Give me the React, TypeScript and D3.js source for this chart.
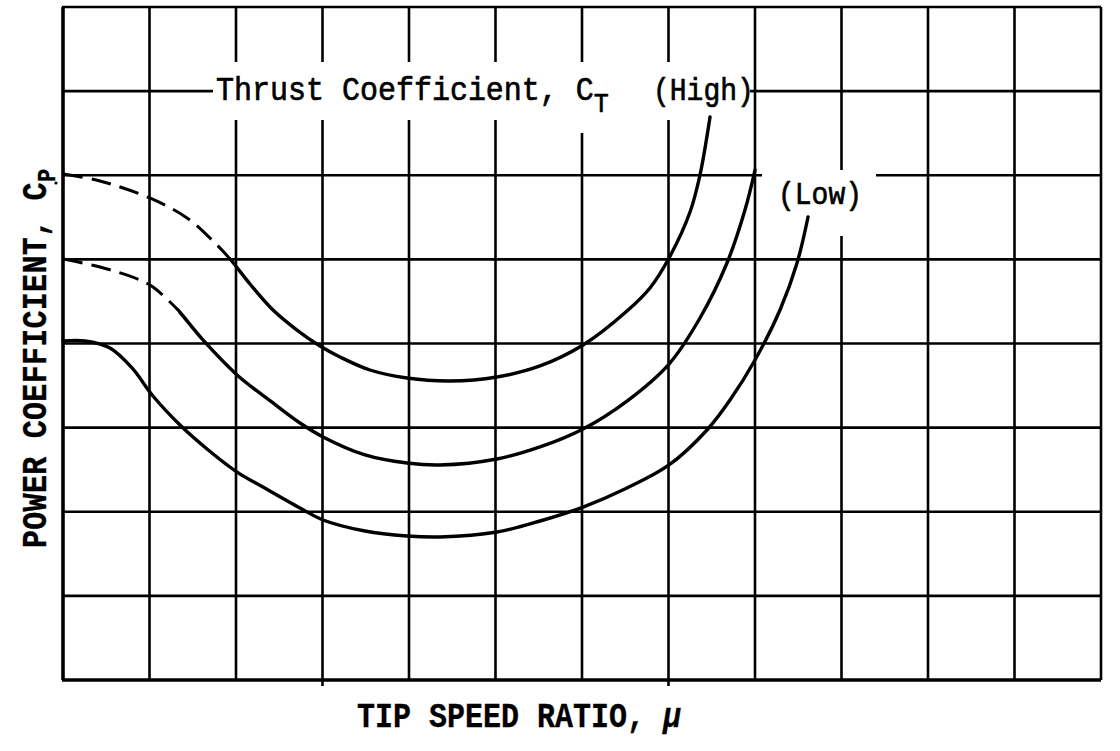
import React from "react";
import * as d3 from "d3";

type Pt = [number, number];

// curve values, in grid units (x: 0..12, y: 0..8)
const highCurve: Pt[] = [
    [0, 6.015], [0.428, 5.932], [1.029, 5.718], [1.434, 5.492], [1.699, 5.254], [1.931, 5.004],
    [2.162, 4.707], [2.428, 4.398], [2.705, 4.16], [2.971, 3.97], [3.202, 3.84],
    [3.549, 3.685], [3.977, 3.59], [4.474, 3.554], [5.017, 3.602], [5.514, 3.733], [6.012, 3.982],
    [6.52, 4.386], [6.786, 4.66], [7.006, 5.016], [7.249, 5.563], [7.364, 6.003], [7.48, 6.692],
];
const midCurve: Pt[] = [
    [0, 5.004], [0.428, 4.909], [0.89, 4.755], [1.04, 4.672], [1.237, 4.493], [1.329, 4.398],
    [1.618, 4.042], [2.012, 3.626], [2.428, 3.293], [2.74, 3.055], [3.006, 2.889],
    [3.491, 2.675], [3.977, 2.579], [4.358, 2.556], [5.017, 2.627], [5.514, 2.77], [6.012, 2.984],
    [6.52, 3.316], [7.006, 3.756], [7.364, 4.303], [7.676, 4.957], [7.884, 5.587], [8.0, 6.062],
];
const lowCurve: Pt[] = [
    [0, 4.03], [0.254, 4.03], [0.543, 3.947], [0.798, 3.709], [1.04, 3.376], [1.353, 3.031],
    [1.665, 2.746], [2.012, 2.472], [2.312, 2.294], [2.74, 2.045], [3.006, 1.902], [3.491, 1.771],
    [3.977, 1.712], [4.358, 1.7], [5.017, 1.759], [5.514, 1.89], [6.012, 2.056], [6.52, 2.282],
    [7.006, 2.556], [7.445, 2.972], [7.711, 3.328], [8.0, 3.804], [8.289, 4.398], [8.486, 4.957],
    [8.613, 5.504],
];
// where the dashed (extrapolated) start of a curve turns solid
const highDashEnd = 1.931;
const midDashEnd = 1.329;
const bottomTicks = [3, 7];

const W = 1120;
const H = 751;
const FONT = "'Liberation Mono', 'DejaVu Sans Mono', monospace";

const App: React.FC = () => {
    const x = d3.scaleLinear().domain([0, 12]).range([63, 1101]);
    const y = d3.scaleLinear().domain([0, 8]).range([680, 7]);

    const line = d3.line<Pt>()
        .x(d => x(d[0]))
        .y(d => y(d[1]))
        .curve(d3.curveCatmullRom.alpha(0.5));

    const xs = x.ticks(12);
    const ys = y.ticks(8);

    const split = (id: string, at: number) => (
        <>
            <clipPath id={id + "-a"}><rect x={0} y={0} width={x(at)} height={H} /></clipPath>
            <clipPath id={id + "-b"}><rect x={x(at)} y={0} width={W} height={H} /></clipPath>
        </>
    );

    return (
        <svg width={W} height={H} style={{ position: "absolute", left: 0, top: 0, background: "#fff" }}>
            <defs>
                {split("high", highDashEnd)}
                {split("mid", midDashEnd)}
            </defs>
            <rect width={W} height={H} fill="#fff" />
            {/* grid */}
            <g stroke="#000" strokeWidth={2.6}>
                {xs.map(v => (
                    <line key={"vx" + v} x1={x(v)} x2={x(v)} y1={y(8)} y2={y(0)}
                        strokeWidth={v === 0 ? 3.6 : 2.6} />
                ))}
                {ys.map(v => (
                    <line key={"hy" + v} x1={x(0) - 1} x2={x(12)} y1={y(v)} y2={y(v)}
                        strokeWidth={v === 0 ? 3.4 : 2.6} />
                ))}
                {bottomTicks.map(v => (
                    <line key={"t" + v} x1={x(v)} x2={x(v)} y1={y(0)} y2={y(0) + 6} />
                ))}
            </g>
            {/* white space kept clear round the labels */}
            <rect x={213} y={62} width={537} height={58} fill="#fff" />
            <rect x={570} y={62} width={50} height={71} fill="#fff" />
            <rect x={762} y={170} width={114} height={66} fill="#fff" />

            <circle cx={56} cy={183} r={1.6} fill="#000" />

            {/* curves */}
            <g fill="none" stroke="#000" strokeWidth={3.4} strokeLinecap="round">
                <path d={line(highCurve) ?? ""} clipPath="url(#high-a)" strokeDasharray="20 9" strokeWidth={3} strokeLinecap="butt" />
                <path d={line(highCurve) ?? ""} clipPath="url(#high-b)" />
                <path d={line(midCurve) ?? ""} clipPath="url(#mid-a)" strokeDasharray="20 9" strokeWidth={3} strokeLinecap="butt" />
                <path d={line(midCurve) ?? ""} clipPath="url(#mid-b)" />
                <path d={line(lowCurve) ?? ""} />
            </g>

            {/* labels */}
            <g fontFamily={FONT} fill="#000" stroke="#000" strokeWidth={0.6}>
                <text transform="translate(216,100) scale(1,1.1)" fontSize={30}>
                    Thrust Coefficient, C<tspan fontSize={25} dy={11}>T</tspan>
                </text>
                <text transform="translate(653,100) scale(1,1.1)" fontSize={28}>(High)</text>
                <text transform="translate(778,204) scale(1,1.1)" fontSize={28}>(Low)</text>
                <text transform="translate(357,727) scale(1,1.15)" fontSize={30} fontWeight="bold" strokeWidth={0.3}>
                    TIP SPEED RATIO, <tspan fontStyle="italic">μ</tspan>
                </text>
                <text transform="translate(46,548) rotate(-90) scale(1,1.15)" fontSize={30} fontWeight="bold"
                    strokeWidth={0.3} letterSpacing={0.3}>
                    POWER COEFFICIENT, C<tspan fontSize={22} dy={8}>P</tspan>
                </text>
            </g>
        </svg>
    );
};

export default App;
